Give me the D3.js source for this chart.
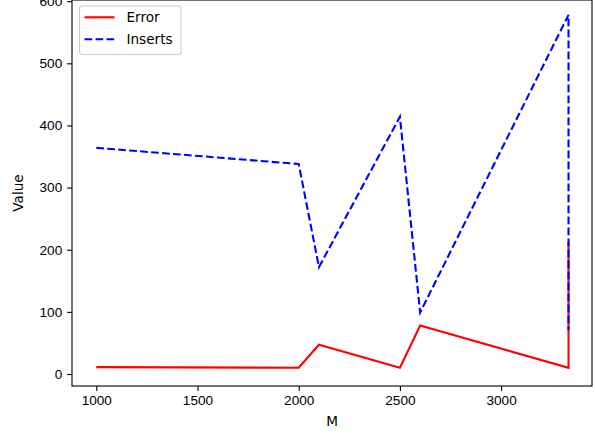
<!DOCTYPE html>
<html>
<head>
<meta charset="utf-8">
<script src="https://cdn.jsdelivr.net/npm/d3@7"></script>
<style>
  body { margin: 0; background: #fff; }
  svg { display: block; font-family: "DejaVu Sans", sans-serif; }
</style>
</head>
<body>
<div id="stage"></div>
<script>
// values
var m_values = [1000, 2000, 2100, 2500, 2600, 3333, 3333];
var error_values = [11, 10, 47, 10, 78, 10, 212];
var insert_values = [364, 338, 172, 414, 99, 578, 71];
var x_ticks = [1000, 1500, 2000, 2500, 3000];
var y_ticks = [0, 100, 200, 300, 400, 500, 600];
var series_names = ["Error", "Inserts"];

var stage_width = 595;
var stage_height = 433;

build_chart();

function build_chart() {
  var plot = { left: 72, right: 592, top: 0, bottom: 386 };

  var svg = d3
    .select("#stage")
    .append("svg")
    .attr("width", stage_width)
    .attr("height", stage_height);

  var x = d3.scaleLinear().domain([880, 3449]).range([plot.left, plot.right]);
  var y = d3.scaleLinear().domain([-19.3, 601.9]).range([plot.bottom, plot.top]);

  var error_data = m_values.map(function(m, i) {
    return { m: m, v: error_values[i] };
  });
  var insert_data = m_values.map(function(m, i) {
    return { m: m, v: insert_values[i] };
  });

  var line = d3
    .line()
    .x(function(d) { return x(d.m); })
    .y(function(d) { return y(d.v); });

  svg
    .append("path")
    .datum(error_data)
    .attr("d", line)
    .attr("fill", "none")
    .attr("stroke", "#ff0000")
    .attr("stroke-width", 2.1)
    .attr("stroke-linejoin", "miter");

  svg
    .append("path")
    .datum(insert_data)
    .attr("d", line)
    .attr("fill", "none")
    .attr("stroke", "#0000ff")
    .attr("stroke-width", 2.1)
    .attr("stroke-dasharray", "7.7,3.3");

  // axes
  var x_axis = d3
    .axisBottom(x)
    .tickValues(x_ticks)
    .tickFormat(d3.format("d"))
    .tickSize(4.9)
    .tickPadding(4.9)
    .tickSizeOuter(0);
  var gx = svg
    .append("g")
    .attr("transform", "translate(0," + plot.bottom + ")")
    .call(x_axis);

  var y_axis = d3
    .axisLeft(y)
    .tickValues(y_ticks)
    .tickFormat(d3.format("d"))
    .tickSize(4.9)
    .tickPadding(4.9)
    .tickSizeOuter(0);
  var gy = svg
    .append("g")
    .attr("transform", "translate(" + plot.left + ",0)")
    .call(y_axis);

  [gx, gy].forEach(function(g) {
    g.select(".domain").remove();
    g.selectAll("line").attr("stroke", "#000").attr("stroke-width", 1.1);
    g.selectAll("text")
      .attr("fill", "#000")
      .style("font-size", "13.6px");
  });

  // frame
  svg
    .append("rect")
    .attr("x", plot.left)
    .attr("y", plot.top)
    .attr("width", plot.right - plot.left)
    .attr("height", plot.bottom - plot.top)
    .attr("fill", "none")
    .attr("stroke", "#000")
    .attr("stroke-width", 1.1);

  // axis labels
  svg
    .append("text")
    .attr("x", (plot.left + plot.right) / 2)
    .attr("y", 426)
    .attr("text-anchor", "middle")
    .style("font-size", "13.6px")
    .text("M");

  svg
    .append("text")
    .attr("transform", "translate(23," + (plot.top + plot.bottom) / 2 + ") rotate(-90)")
    .attr("text-anchor", "middle")
    .style("font-size", "13.6px")
    .text("Value");

  // legend
  var legend = svg.append("g").attr("transform", "translate(79.5,6)");
  legend
    .append("rect")
    .attr("width", 101.5)
    .attr("height", 48.5)
    .attr("rx", 2.8)
    .attr("fill", "#fff")
    .attr("fill-opacity", 0.8)
    .attr("stroke", "#cccccc")
    .attr("stroke-width", 1.1);

  var colors = ["#ff0000", "#0000ff"];
  var dashes = [null, "7.7,3.3"];
  series_names.forEach(function(name, i) {
    var cy = 11.3 + i * 22;
    legend
      .append("line")
      .attr("x1", 5)
      .attr("x2", 35)
      .attr("y1", cy)
      .attr("y2", cy)
      .attr("stroke", colors[i])
      .attr("stroke-width", 2.1)
      .attr("stroke-dasharray", dashes[i]);
    legend
      .append("text")
      .attr("x", 47)
      .attr("y", cy)
      .attr("dy", "0.35em")
      .style("font-size", "13.6px")
      .text(name);
  });
}
</script>
</body>
</html>
